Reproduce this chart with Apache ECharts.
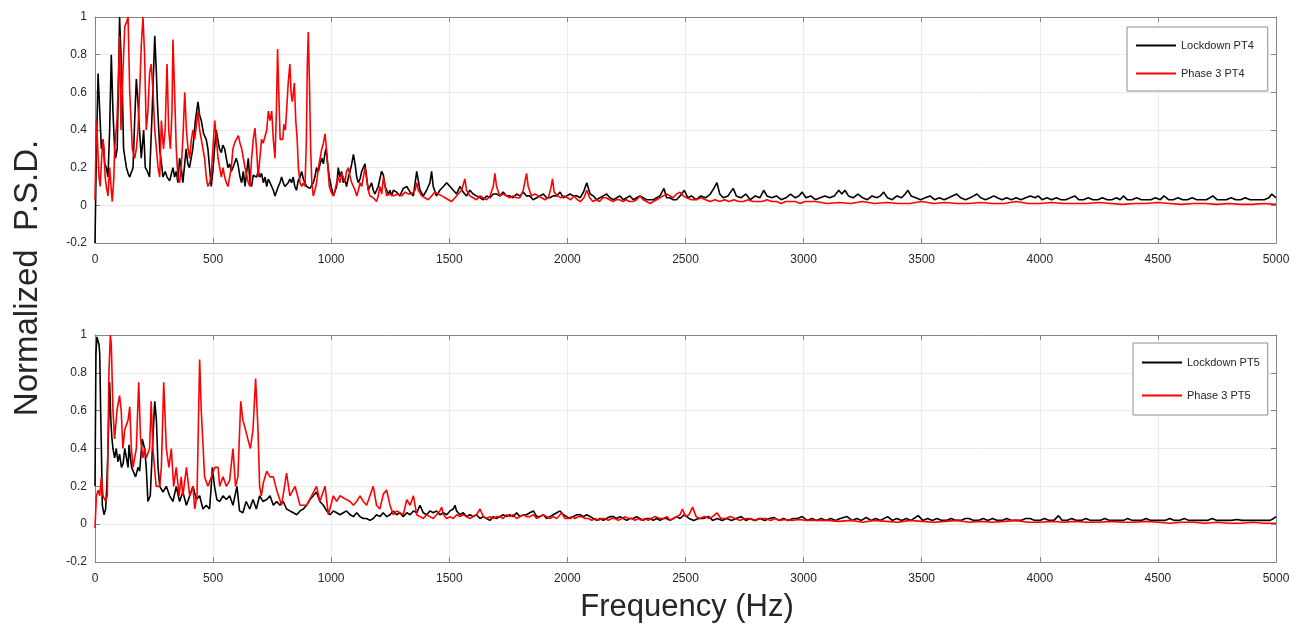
<!DOCTYPE html>
<html>
<head>
<meta charset="utf-8">
<script src="https://cdn.jsdelivr.net/npm/echarts@6/dist/echarts.min.js"></script>
<style>html,body{margin:0;padding:0;background:#fff;}#chart{width:1303px;height:626px;}</style>
</head>
<body>
<div id="chart"></div>
<script>
// ---- DATA (frequency in Hz, normalized PSD) ----
const yAxisTitle = 'Normalized  P.S.D.';
const xAxisTitle = 'Frequency (Hz)';
const seriesNames = ['Lockdown PT4', 'Phase 3 PT4', 'Lockdown PT5', 'Phase 3 PT5'];

const lockdownPT4 = [[0,-0.2],[6,0.3],[13,0.7],[20,0.5],[27,0.3],[34,0.35],[41,0.22],[48,0.2],[55,0.15],[62,0.4],[69,0.8],[76,0.5],[83,0.3],[87,0.25],[94,0.3],[100,0.7],[104,1.0],[110,0.8],[116,0.6],[121,0.3],[133,0.2],[140,0.17],[147,0.15],[161,0.2],[168,0.45],[175,0.67],[182,0.55],[186,0.45],[196,0.25],[206,0.4],[213,0.2],[222,0.18],[231,0.15],[242,0.5],[253,0.9],[260,0.7],[264,0.55],[274,0.3],[288,0.15],[297,0.18],[305,0.15],[316,0.13],[330,0.2],[337,0.15],[344,0.18],[351,0.12],[358,0.25],[365,0.2],[372,0.12],[386,0.3],[393,0.22],[400,0.2],[407,0.25],[414,0.3],[425,0.45],[436,0.55],[443,0.48],[450,0.45],[460,0.38],[471,0.35],[478,0.3],[485,0.2],[492,0.1],[499,0.18],[506,0.3],[513,0.4],[520,0.35],[527,0.3],[535,0.28],[541,0.32],[549,0.3],[556,0.25],[563,0.2],[570,0.22],[577,0.18],[584,0.2],[591,0.2],[598,0.25],[605,0.22],[614,0.15],[621,0.12],[628,0.18],[635,0.1],[649,0.25],[656,0.12],[663,0.1],[670,0.16],[677,0.15],[684,0.15],[691,0.18],[698,0.15],[705,0.17],[713,0.12],[720,0.15],[727,0.1],[734,0.14],[741,0.15],[748,0.1],[755,0.08],[762,0.05],[769,0.06],[776,0.1],[783,0.12],[790,0.15],[797,0.12],[804,0.1],[811,0.1],[818,0.12],[825,0.14],[832,0.12],[839,0.15],[846,0.1],[853,0.08],[860,0.13],[868,0.15],[875,0.18],[882,0.14],[889,0.12],[896,0.1],[903,0.11],[910,0.09],[917,0.08],[924,0.12],[931,0.15],[938,0.2],[946,0.18],[953,0.22],[960,0.25],[967,0.22],[974,0.28],[978,0.3],[985,0.22],[992,0.15],[1000,0.1],[1009,0.05],[1016,0.04],[1023,0.1],[1030,0.2],[1037,0.15],[1044,0.18],[1051,0.12],[1058,0.14],[1065,0.1],[1073,0.15],[1080,0.18],[1087,0.22],[1094,0.27],[1101,0.22],[1108,0.15],[1115,0.12],[1122,0.14],[1129,0.18],[1136,0.2],[1143,0.22],[1150,0.15],[1157,0.08],[1164,0.1],[1171,0.12],[1178,0.08],[1185,0.06],[1192,0.05],[1199,0.1],[1206,0.14],[1213,0.18],[1221,0.16],[1228,0.1],[1235,0.08],[1242,0.06],[1249,0.08],[1256,0.05],[1263,0.08],[1277,0.07],[1291,0.05],[1305,0.09],[1320,0.1],[1334,0.07],[1348,0.05],[1362,0.18],[1376,0.08],[1390,0.05],[1404,0.08],[1418,0.12],[1425,0.18],[1432,0.1],[1446,0.05],[1460,0.08],[1475,0.1],[1489,0.12],[1503,0.1],[1517,0.08],[1531,0.06],[1545,0.1],[1559,0.07],[1573,0.05],[1587,0.08],[1601,0.06],[1615,0.05],[1630,0.04],[1644,0.03],[1658,0.05],[1672,0.04],[1686,0.06],[1700,0.06],[1714,0.05],[1728,0.07],[1742,0.05],[1756,0.05],[1770,0.04],[1785,0.06],[1799,0.05],[1813,0.07],[1827,0.05],[1841,0.05],[1855,0.03],[1870,0.04],[1884,0.05],[1898,0.06],[1912,0.04],[1926,0.04],[1940,0.05],[1955,0.05],[1969,0.07],[1983,0.04],[1997,0.05],[2011,0.06],[2025,0.05],[2040,0.05],[2054,0.04],[2068,0.07],[2082,0.12],[2096,0.06],[2110,0.05],[2124,0.03],[2138,0.04],[2152,0.05],[2166,0.06],[2180,0.04],[2195,0.03],[2209,0.04],[2223,0.05],[2237,0.03],[2251,0.04],[2265,0.05],[2279,0.03],[2293,0.04],[2307,0.05],[2321,0.04],[2335,0.03],[2350,0.03],[2364,0.03],[2378,0.04],[2392,0.05],[2409,0.09],[2420,0.04],[2434,0.04],[2448,0.03],[2462,0.03],[2477,0.05],[2495,0.08],[2510,0.04],[2525,0.05],[2545,0.03],[2565,0.05],[2585,0.04],[2605,0.06],[2620,0.09],[2633,0.12],[2645,0.06],[2660,0.04],[2680,0.05],[2702,0.09],[2715,0.05],[2735,0.04],[2755,0.06],[2775,0.03],[2795,0.05],[2815,0.04],[2831,0.08],[2845,0.05],[2865,0.04],[2885,0.05],[2905,0.03],[2925,0.04],[2945,0.06],[2965,0.04],[2980,0.05],[2994,0.07],[3010,0.04],[3030,0.05],[3050,0.03],[3070,0.04],[3090,0.05],[3110,0.04],[3130,0.05],[3149,0.08],[3162,0.06],[3175,0.08],[3190,0.05],[3210,0.04],[3230,0.06],[3250,0.04],[3270,0.03],[3290,0.05],[3310,0.04],[3325,0.05],[3339,0.07],[3355,0.04],[3375,0.03],[3395,0.05],[3415,0.04],[3430,0.06],[3442,0.08],[3455,0.05],[3475,0.04],[3495,0.03],[3515,0.04],[3535,0.05],[3555,0.03],[3575,0.04],[3595,0.03],[3615,0.04],[3630,0.05],[3648,0.06],[3665,0.04],[3685,0.03],[3705,0.04],[3720,0.05],[3734,0.06],[3750,0.04],[3770,0.03],[3790,0.04],[3805,0.05],[3820,0.04],[3840,0.03],[3860,0.04],[3880,0.03],[3900,0.04],[3920,0.03],[3940,0.04],[3960,0.05],[3980,0.04],[3993,0.05],[4010,0.03],[4030,0.04],[4050,0.03],[4070,0.04],[4090,0.03],[4110,0.03],[4130,0.04],[4148,0.05],[4165,0.03],[4185,0.03],[4205,0.04],[4225,0.03],[4245,0.03],[4265,0.04],[4285,0.03],[4305,0.03],[4325,0.04],[4340,0.03],[4354,0.05],[4370,0.03],[4390,0.03],[4410,0.04],[4430,0.03],[4450,0.03],[4470,0.03],[4490,0.04],[4510,0.03],[4526,0.05],[4545,0.03],[4565,0.03],[4585,0.04],[4605,0.03],[4625,0.03],[4645,0.04],[4665,0.03],[4685,0.03],[4705,0.03],[4720,0.04],[4733,0.05],[4750,0.03],[4770,0.03],[4790,0.03],[4810,0.04],[4830,0.03],[4850,0.03],[4870,0.04],[4890,0.03],[4910,0.03],[4930,0.03],[4950,0.03],[4970,0.04],[4982,0.06],[5000,0.04]];

const phase3PT4 = [[0,0.03],[6,0.45],[10,0.35],[17,0.15],[22,0.1],[28,0.25],[34,0.35],[38,0.3],[43,0.15],[48,0.1],[55,0.05],[62,0.2],[68,0.1],[73,0.02],[80,0.15],[83,0.3],[93,0.45],[100,0.7],[104,0.9],[110,0.4],[118,0.7],[126,0.95],[133,0.97],[140,1.0],[147,0.6],[158,0.3],[168,0.25],[175,0.3],[182,0.4],[189,0.6],[196,0.85],[203,1.0],[210,0.8],[217,0.4],[224,0.5],[231,0.7],[238,0.75],[246,0.6],[253,0.4],[260,0.3],[267,0.2],[274,0.15],[281,0.45],[290,0.3],[297,0.4],[305,0.75],[312,0.4],[319,0.3],[326,0.5],[330,0.88],[337,0.6],[344,0.3],[351,0.15],[358,0.12],[365,0.2],[372,0.35],[380,0.6],[387,0.4],[394,0.3],[401,0.25],[408,0.35],[415,0.4],[422,0.35],[429,0.42],[436,0.5],[443,0.4],[450,0.35],[457,0.3],[464,0.25],[471,0.15],[478,0.1],[485,0.12],[492,0.15],[499,0.3],[507,0.45],[514,0.35],[521,0.25],[528,0.2],[535,0.15],[542,0.2],[549,0.15],[556,0.12],[563,0.1],[570,0.1],[577,0.2],[584,0.3],[591,0.33],[598,0.35],[607,0.37],[614,0.33],[621,0.3],[628,0.25],[635,0.2],[642,0.2],[649,0.12],[656,0.1],[663,0.25],[670,0.35],[677,0.41],[684,0.3],[691,0.15],[698,0.25],[705,0.35],[712,0.33],[719,0.33],[727,0.4],[734,0.5],[741,0.45],[748,0.5],[755,0.35],[762,0.25],[768,0.5],[773,0.83],[778,0.6],[784,0.35],[790,0.36],[795,0.35],[800,0.43],[806,0.4],[811,0.5],[818,0.65],[825,0.75],[830,0.6],[835,0.55],[840,0.6],[844,0.65],[850,0.45],[856,0.35],[861,0.2],[868,0.12],[875,0.1],[882,0.12],[889,0.1],[895,0.35],[899,0.75],[903,0.92],[908,0.65],[913,0.3],[918,0.12],[924,0.05],[931,0.08],[938,0.12],[946,0.2],[953,0.25],[960,0.3],[967,0.33],[974,0.38],[980,0.3],[986,0.2],[992,0.1],[1000,0.07],[1009,0.05],[1016,0.08],[1023,0.12],[1030,0.15],[1037,0.12],[1044,0.17],[1051,0.15],[1058,0.12],[1065,0.18],[1073,0.2],[1080,0.15],[1087,0.12],[1094,0.1],[1101,0.08],[1108,0.05],[1115,0.08],[1122,0.12],[1129,0.1],[1136,0.15],[1143,0.2],[1150,0.14],[1157,0.08],[1164,0.05],[1171,0.06],[1178,0.04],[1185,0.03],[1192,0.02],[1199,0.05],[1206,0.1],[1214,0.06],[1221,0.15],[1228,0.1],[1235,0.05],[1242,0.04],[1249,0.06],[1256,0.06],[1263,0.05],[1270,0.06],[1284,0.06],[1298,0.05],[1312,0.07],[1327,0.06],[1341,0.06],[1355,0.08],[1362,0.12],[1369,0.08],[1383,0.05],[1397,0.04],[1411,0.03],[1425,0.05],[1439,0.07],[1453,0.06],[1468,0.05],[1482,0.04],[1496,0.03],[1510,0.02],[1524,0.04],[1538,0.06],[1552,0.08],[1566,0.14],[1573,0.08],[1587,0.05],[1601,0.04],[1615,0.03],[1630,0.05],[1644,0.04],[1658,0.03],[1672,0.05],[1686,0.1],[1693,0.17],[1700,0.1],[1714,0.05],[1728,0.06],[1742,0.05],[1756,0.04],[1770,0.05],[1785,0.04],[1799,0.04],[1813,0.08],[1827,0.17],[1834,0.1],[1848,0.05],[1862,0.06],[1877,0.05],[1891,0.04],[1905,0.03],[1919,0.04],[1930,0.09],[1937,0.14],[1944,0.07],[1958,0.05],[1972,0.04],[1986,0.05],[2000,0.04],[2014,0.03],[2028,0.05],[2042,0.03],[2056,0.02],[2070,0.04],[2082,0.08],[2094,0.04],[2108,0.02],[2122,0.03],[2136,0.02],[2150,0.04],[2164,0.04],[2178,0.03],[2193,0.02],[2207,0.03],[2221,0.03],[2235,0.02],[2249,0.03],[2263,0.02],[2277,0.02],[2293,0.03],[2307,0.05],[2321,0.03],[2335,0.02],[2350,0.01],[2364,0.02],[2378,0.03],[2392,0.04],[2406,0.05],[2420,0.06],[2434,0.05],[2448,0.04],[2462,0.06],[2477,0.07],[2490,0.05],[2505,0.04],[2525,0.03],[2545,0.03],[2565,0.04],[2585,0.03],[2605,0.02],[2625,0.03],[2645,0.02],[2665,0.03],[2685,0.02],[2705,0.03],[2725,0.02],[2745,0.02],[2765,0.03],[2785,0.02],[2805,0.02],[2825,0.02],[2845,0.03],[2865,0.02],[2885,0.02],[2905,0.01],[2925,0.02],[2945,0.02],[2965,0.02],[2985,0.01],[3005,0.02],[3025,0.02],[3050,0.02],[3100,0.01],[3150,0.015],[3200,0.01],[3250,0.02],[3300,0.01],[3350,0.015],[3400,0.01],[3450,0.01],[3500,0.02],[3550,0.01],[3600,0.015],[3650,0.01],[3700,0.01],[3750,0.015],[3800,0.01],[3850,0.01],[3900,0.02],[3950,0.01],[4000,0.01],[4050,0.015],[4100,0.01],[4150,0.01],[4200,0.01],[4250,0.015],[4300,0.01],[4350,0.005],[4400,0.01],[4450,0.01],[4500,0.015],[4550,0.01],[4600,0.005],[4650,0.01],[4700,0.01],[4750,0.005],[4800,0.01],[4850,0.005],[4900,0.005],[4950,0.01],[5000,0.005]];

const lockdownPT5 = [[0,0.2],[4,0.9],[8,0.99],[13,1.0],[17,0.95],[20,0.9],[24,0.6],[27,0.4],[31,0.1],[38,0.05],[45,0.08],[50,0.2],[55,0.4],[62,0.75],[67,0.55],[72,0.45],[76,0.4],[83,0.35],[90,0.4],[97,0.33],[104,0.37],[112,0.3],[119,0.32],[126,0.4],[133,0.35],[140,0.3],[144,0.42],[150,0.35],[155,0.3],[161,0.3],[172,0.25],[182,0.3],[189,0.28],[200,0.45],[210,0.4],[217,0.3],[224,0.12],[234,0.15],[243,0.4],[249,0.55],[253,0.65],[260,0.55],[267,0.3],[274,0.2],[288,0.17],[302,0.2],[316,0.15],[330,0.12],[344,0.2],[358,0.12],[372,0.17],[387,0.1],[401,0.15],[415,0.2],[429,0.13],[443,0.15],[457,0.08],[471,0.1],[485,0.08],[492,0.2],[497,0.3],[506,0.2],[516,0.13],[528,0.12],[542,0.15],[556,0.13],[570,0.15],[584,0.1],[601,0.2],[612,0.07],[626,0.06],[640,0.12],[655,0.08],[669,0.13],[683,0.08],[697,0.15],[711,0.12],[727,0.13],[741,0.15],[755,0.1],[769,0.12],[783,0.1],[797,0.12],[811,0.08],[825,0.07],[840,0.06],[854,0.05],[868,0.07],[882,0.08],[896,0.1],[910,0.13],[924,0.15],[938,0.17],[952,0.12],[967,0.1],[981,0.07],[995,0.05],[1009,0.07],[1023,0.06],[1037,0.05],[1051,0.06],[1065,0.07],[1080,0.05],[1094,0.04],[1108,0.06],[1122,0.04],[1136,0.03],[1150,0.03],[1164,0.02],[1178,0.03],[1192,0.05],[1206,0.04],[1220,0.06],[1235,0.04],[1249,0.05],[1263,0.07],[1277,0.05],[1291,0.06],[1305,0.04],[1320,0.06],[1334,0.05],[1348,0.07],[1362,0.06],[1376,0.1],[1390,0.06],[1404,0.05],[1418,0.07],[1432,0.06],[1446,0.07],[1460,0.05],[1475,0.06],[1489,0.05],[1503,0.07],[1517,0.08],[1524,0.1],[1531,0.07],[1545,0.05],[1559,0.06],[1573,0.04],[1587,0.05],[1601,0.04],[1615,0.05],[1630,0.03],[1644,0.04],[1658,0.03],[1672,0.02],[1686,0.04],[1700,0.03],[1714,0.04],[1728,0.05],[1742,0.04],[1756,0.05],[1770,0.04],[1785,0.06],[1799,0.04],[1813,0.05],[1827,0.05],[1841,0.06],[1856,0.07],[1870,0.04],[1884,0.04],[1898,0.05],[1912,0.03],[1926,0.04],[1940,0.05],[1955,0.06],[1969,0.07],[1983,0.05],[1997,0.04],[2011,0.03],[2025,0.04],[2040,0.05],[2054,0.05],[2068,0.04],[2082,0.05],[2096,0.04],[2110,0.03],[2124,0.02],[2138,0.03],[2152,0.02],[2166,0.03],[2180,0.04],[2195,0.04],[2209,0.03],[2223,0.04],[2237,0.03],[2251,0.02],[2265,0.03],[2279,0.03],[2293,0.04],[2307,0.03],[2321,0.02],[2335,0.03],[2350,0.03],[2364,0.02],[2378,0.03],[2392,0.02],[2406,0.03],[2420,0.03],[2434,0.02],[2448,0.03],[2462,0.04],[2477,0.03],[2495,0.05],[2515,0.03],[2535,0.02],[2555,0.03],[2575,0.03],[2598,0.04],[2615,0.02],[2635,0.03],[2655,0.02],[2675,0.03],[2695,0.02],[2715,0.03],[2736,0.04],[2755,0.02],[2775,0.03],[2795,0.02],[2815,0.03],[2835,0.02],[2855,0.03],[2874,0.035],[2895,0.02],[2915,0.03],[2935,0.02],[2955,0.03],[2975,0.03],[2994,0.04],[3015,0.02],[3035,0.03],[3055,0.02],[3075,0.03],[3095,0.02],[3115,0.03],[3135,0.02],[3155,0.03],[3184,0.04],[3205,0.02],[3225,0.03],[3245,0.02],[3265,0.035],[3285,0.02],[3305,0.03],[3325,0.02],[3356,0.04],[3375,0.02],[3395,0.03],[3415,0.02],[3435,0.03],[3455,0.02],[3485,0.045],[3505,0.02],[3525,0.03],[3545,0.02],[3565,0.03],[3585,0.02],[3605,0.02],[3625,0.03],[3645,0.02],[3665,0.02],[3685,0.03],[3700,0.03],[3720,0.02],[3740,0.02],[3760,0.03],[3780,0.02],[3800,0.03],[3820,0.02],[3840,0.02],[3860,0.03],[3880,0.02],[3900,0.02],[3920,0.02],[3940,0.03],[3958,0.03],[3980,0.02],[4000,0.02],[4020,0.03],[4040,0.02],[4060,0.02],[4079,0.045],[4095,0.02],[4115,0.02],[4135,0.03],[4155,0.02],[4175,0.02],[4195,0.03],[4215,0.02],[4235,0.02],[4255,0.02],[4275,0.03],[4295,0.02],[4315,0.02],[4335,0.02],[4355,0.02],[4372,0.03],[4390,0.02],[4410,0.02],[4430,0.02],[4450,0.03],[4470,0.02],[4490,0.02],[4510,0.02],[4530,0.02],[4550,0.03],[4570,0.02],[4590,0.02],[4612,0.03],[4630,0.02],[4650,0.02],[4670,0.02],[4690,0.02],[4710,0.02],[4730,0.03],[4750,0.02],[4770,0.02],[4790,0.02],[4810,0.02],[4836,0.025],[4855,0.02],[4875,0.02],[4895,0.02],[4915,0.02],[4935,0.02],[4955,0.02],[4975,0.02],[4990,0.03],[5000,0.04]];

const phase3PT5 = [[0,-0.02],[6,0.15],[13,0.18],[20,0.15],[27,0.25],[34,0.15],[45,0.12],[52,0.15],[59,0.8],[65,1.0],[69,0.95],[76,0.6],[83,0.45],[93,0.6],[104,0.68],[111,0.6],[118,0.4],[126,0.5],[133,0.5],[140,0.55],[147,0.62],[154,0.4],[161,0.3],[168,0.35],[175,0.4],[185,0.75],[193,0.45],[203,0.35],[210,0.4],[217,0.35],[231,0.4],[238,0.65],[245,0.4],[259,0.2],[274,0.2],[281,0.3],[291,0.75],[302,0.4],[313,0.3],[323,0.4],[333,0.2],[344,0.3],[356,0.15],[365,0.25],[372,0.15],[387,0.3],[401,0.15],[415,0.2],[422,0.08],[432,0.15],[443,0.87],[450,0.6],[464,0.25],[478,0.2],[493,0.25],[507,0.3],[521,0.3],[528,0.2],[542,0.25],[556,0.2],[570,0.23],[584,0.4],[595,0.2],[605,0.25],[617,0.65],[626,0.55],[637,0.5],[647,0.45],[658,0.4],[669,0.5],[680,0.77],[690,0.5],[697,0.2],[704,0.15],[713,0.22],[727,0.28],[741,0.25],[755,0.25],[769,0.18],[790,0.1],[811,0.27],[825,0.15],[847,0.2],[868,0.1],[896,0.1],[917,0.15],[938,0.2],[952,0.12],[974,0.2],[988,0.05],[1009,0.15],[1023,0.12],[1037,0.15],[1051,0.14],[1065,0.13],[1080,0.12],[1094,0.1],[1108,0.12],[1122,0.15],[1136,0.12],[1150,0.1],[1164,0.15],[1178,0.2],[1192,0.1],[1206,0.08],[1221,0.16],[1235,0.18],[1249,0.1],[1263,0.05],[1277,0.07],[1291,0.06],[1305,0.05],[1320,0.13],[1334,0.1],[1348,0.15],[1362,0.05],[1376,0.04],[1390,0.03],[1404,0.05],[1418,0.04],[1432,0.03],[1446,0.05],[1460,0.07],[1468,0.09],[1475,0.05],[1489,0.03],[1503,0.04],[1517,0.03],[1531,0.05],[1545,0.04],[1559,0.05],[1573,0.04],[1587,0.03],[1601,0.04],[1615,0.05],[1630,0.08],[1644,0.04],[1658,0.03],[1672,0.04],[1686,0.03],[1700,0.04],[1714,0.04],[1728,0.03],[1742,0.05],[1756,0.04],[1770,0.05],[1785,0.03],[1799,0.04],[1813,0.05],[1827,0.04],[1841,0.04],[1856,0.05],[1870,0.03],[1884,0.04],[1898,0.05],[1912,0.04],[1926,0.03],[1940,0.04],[1955,0.03],[1976,0.06],[1990,0.03],[2004,0.03],[2018,0.04],[2032,0.03],[2046,0.04],[2061,0.04],[2075,0.03],[2089,0.03],[2103,0.02],[2117,0.03],[2131,0.02],[2145,0.03],[2159,0.03],[2173,0.02],[2187,0.03],[2201,0.03],[2215,0.02],[2230,0.03],[2244,0.04],[2258,0.03],[2272,0.03],[2286,0.02],[2300,0.03],[2314,0.02],[2328,0.03],[2342,0.02],[2356,0.03],[2370,0.04],[2378,0.05],[2392,0.03],[2406,0.03],[2421,0.04],[2435,0.02],[2449,0.03],[2463,0.04],[2477,0.05],[2487,0.08],[2500,0.04],[2515,0.05],[2530,0.09],[2545,0.04],[2560,0.03],[2580,0.04],[2600,0.03],[2615,0.04],[2633,0.06],[2650,0.03],[2670,0.03],[2690,0.04],[2710,0.03],[2730,0.02],[2750,0.03],[2770,0.03],[2790,0.02],[2810,0.03],[2840,0.03],[2860,0.02],[2880,0.03],[2900,0.02],[2920,0.025],[2950,0.02],[2980,0.025],[3010,0.02],[3040,0.02],[3070,0.02],[3100,0.02],[3150,0.015],[3200,0.02],[3250,0.01],[3300,0.02],[3350,0.015],[3400,0.01],[3450,0.02],[3500,0.015],[3550,0.01],[3600,0.015],[3650,0.02],[3700,0.01],[3750,0.015],[3800,0.01],[3850,0.015],[3900,0.02],[3950,0.01],[4000,0.01],[4050,0.015],[4100,0.01],[4150,0.015],[4200,0.01],[4250,0.01],[4300,0.015],[4350,0.01],[4400,0.01],[4450,0.015],[4500,0.01],[4550,0.005],[4600,0.01],[4650,0.01],[4700,0.005],[4750,0.01],[4800,0.005],[4850,0.005],[4900,0.01],[4950,0.005],[5000,0.005]];

const xMin = 0, xMax = 5000, xStep = 500;
const yMin = -0.2, yMax = 1, yStep = 0.2;

// ---- CHART ----
const chart = echarts.init(document.getElementById('chart'), null, {renderer: 'canvas'});
const FONT = 'Liberation Sans, Arial, Helvetica, sans-serif';
const AXC = '#858585';
const TXT = '#262626';

function xAx(gi, pos, primary) {
  return {
    type: 'value', gridIndex: gi, position: pos, min: xMin, max: xMax, interval: xStep,
    axisLine: {show: true, onZero: false, lineStyle: {color: AXC, width: 1}},
    axisTick: {show: true, inside: true, length: 5, lineStyle: {color: AXC}},
    axisLabel: {show: primary, color: TXT, fontFamily: FONT, fontSize: 12, margin: 11,
      formatter: v => String(v)},
    splitLine: {show: primary, lineStyle: {color: '#ebebeb', width: 1}}
  };
}
function yAx(gi, pos, primary) {
  return {
    type: 'value', gridIndex: gi, position: pos, min: yMin, max: yMax, interval: yStep,
    axisLine: {show: true, onZero: false, lineStyle: {color: AXC, width: 1}},
    axisTick: {show: true, inside: true, length: 5, lineStyle: {color: AXC}},
    axisLabel: {show: primary, color: TXT, fontFamily: FONT, fontSize: 12, margin: 8,
      formatter: v => String(Math.round(v * 10) / 10)},
    splitLine: {show: primary, lineStyle: {color: '#ebebeb', width: 1}}
  };
}
function line(name, data, color, xi, yi) {
  return {
    name, type: 'line', data, xAxisIndex: xi, yAxisIndex: yi,
    showSymbol: false, symbol: 'none', smooth: false, animation: false,
    lineStyle: {color, width: 1.6}, itemStyle: {color}, z: color === '#ff0000' ? 3 : 2
  };
}
function legend(names, left, top, gap, pad) {
  return {
    data: names, orient: 'vertical', left, top, itemGap: gap, padding: pad,
    icon: 'rect', itemWidth: 40, itemHeight: 2,
    backgroundColor: '#ffffff', borderColor: '#8c8c8c', borderWidth: 1,
    textStyle: {color: TXT, fontFamily: FONT, fontSize: 11},
    selectedMode: false
  };
}

chart.setOption({
  animation: false,
  backgroundColor: '#ffffff',
  grid: [
    {left: 95, right: 27, top: 17, height: 226},
    {left: 95, right: 27, top: 335, height: 227}
  ],
  xAxis: [xAx(0, 'bottom', true), xAx(0, 'top', false), xAx(1, 'bottom', true), xAx(1, 'top', false)],
  yAxis: [yAx(0, 'left', true), yAx(0, 'right', false), yAx(1, 'left', true), yAx(1, 'right', false)],
  legend: [
    legend([seriesNames[0], seriesNames[1]], 1127, 27, 17, [13, 14, 12, 9]),
    legend([seriesNames[2], seriesNames[3]], 1133, 343, 22, [14, 8, 14, 9])
  ],
  series: [
    line(seriesNames[1], phase3PT4, '#ff0000', 0, 0),
    line(seriesNames[0], lockdownPT4, '#000000', 0, 0),
    line(seriesNames[3], phase3PT5, '#ff0000', 2, 2),
    line(seriesNames[2], lockdownPT5, '#000000', 2, 2)
  ],
  graphic: [
    {type: 'text', x: 28, y: 278, rotation: Math.PI / 2,
      style: {text: yAxisTitle, fontSize: 33, fontFamily: FONT, fill: TXT, align: 'center', verticalAlign: 'middle'}},
    {type: 'text', x: 687, y: 607,
      style: {text: xAxisTitle, fontSize: 31, fontFamily: FONT, fill: TXT, align: 'center', verticalAlign: 'middle'}}
  ]
});
</script>
</body>
</html>
